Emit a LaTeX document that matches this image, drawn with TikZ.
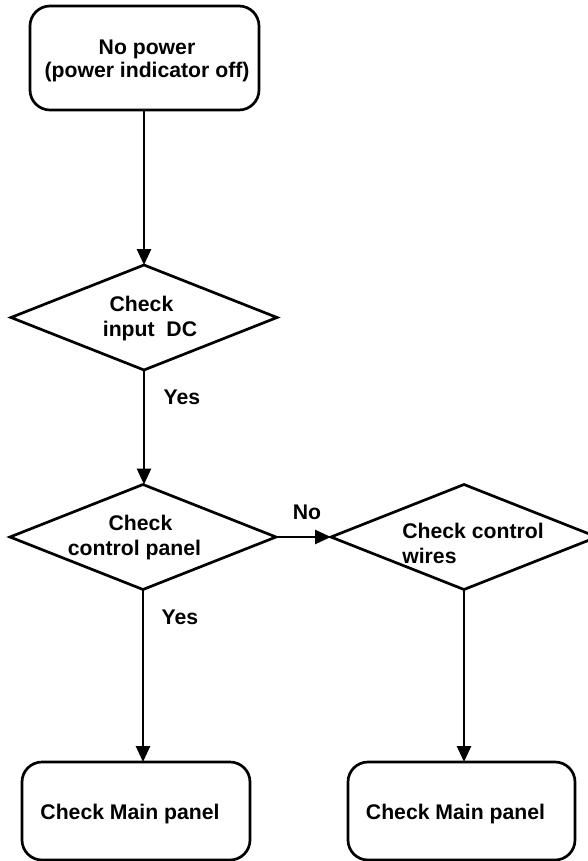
\documentclass[tikz,border=0pt]{standalone}
\usepackage{fontspec}
\setmainfont{Liberation Sans}
\usetikzlibrary{shapes.geometric,arrows.meta}
\begin{document}
\begin{tikzpicture}[x=1pt,y=-1pt,
  line width=2.7pt,
  txt/.style={font=\bfseries\fontsize{21.2}{25}\selectfont, inner sep=0pt},
  termbox/.style={draw, rounded corners=20pt, inner sep=0pt, outer sep=0pt},
  decision/.style={draw, diamond, inner sep=0pt, outer sep=0pt,
    minimum width=266pt, minimum height=105pt, aspect=2.53},
  arr/.style={-{Triangle[length=16pt,width=14pt]}}]
\useasboundingbox (0,0) rectangle (587,861);

% start box
\node[termbox, minimum width=229pt, minimum height=104pt] (start) at (144.5,58) {};
\node[txt, align=center, font=\bfseries\fontsize{21.2}{23}\selectfont]
  (starttext) at (147,61) {No power\\(power indicator off)};

% decisions
\node[decision] (dc) at (144,317.5) {};
\node[decision] (panel) at (143,537) {};
\node[decision] (wires) at (464,537) {};

\node[txt, align=center] (dctext) at (150,318.5) {Check\kern17pt\\input\ \ DC};
\node[txt, align=center] (paneltext) at (134.5,537.5) {\kern12pt Check\\control panel};
\node[txt, align=left, anchor=west] (wirestext) at (401,543.5) {Check control\\wires};

% end boxes
\node[termbox, minimum width=228pt, minimum height=98pt] (mainA) at (136,811) {};
\node[termbox, minimum width=227pt, minimum height=98pt] (mainB) at (461.5,811) {};
\node[txt] (mainAtext) at (130,814) {Check Main panel};
\node[txt] (mainBtext) at (455.5,814) {Check Main panel};

% connectors
\draw[arr] (start.south -| dc.north) -- (dc.north);
\draw[arr] (dc.south) -- (dc.south |- panel.north);
\draw[arr] (panel.east) -- (wires.west);
\draw[arr] (panel.south) -- (panel.south |- mainA.north);
\draw[arr] (wires.south) -- (wires.south |- mainB.north);

% branch labels
\node[txt] (yes1) at (182,397) {Yes};
\node[txt] (yes2) at (180,617) {Yes};
\node[txt] (no1) at (307,512) {No};
\end{tikzpicture}
\end{document}
